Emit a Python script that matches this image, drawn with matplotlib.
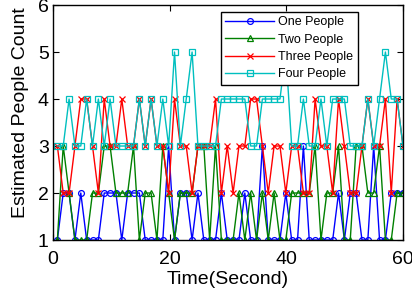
import numpy as np
import matplotlib
matplotlib.use("Agg")
import matplotlib.pyplot as plt

plt.rcParams['font.family'] = ['Liberation Sans', 'DejaVu Sans']

# sample times (seconds)
time = np.linspace(0.75, 60, 60)

one_people = [1, 2, 2, 1, 2, 1, 1, 1, 2, 2,
              2, 1, 2, 2, 2, 1, 1, 1, 1, 3,
              1, 2, 2, 1, 2, 1, 1, 1, 2, 1,
              1, 1, 2, 1, 1, 3, 1, 1, 1, 2,
              1, 1, 3, 1, 1, 1, 1, 1, 2, 1,
              2, 2, 1, 1, 3, 1, 1, 2, 2, 2]

two_people = [1, 3, 2, 1, 1, 1, 2, 2, 3, 3,
              2, 2, 2, 3, 1, 2, 2, 1, 3, 2,
              1, 2, 2, 2, 3, 3, 1, 3, 1, 1,
              1, 2, 1, 2, 1, 2, 1, 2, 1, 1,
              2, 2, 2, 2, 3, 1, 2, 2, 3, 1,
              1, 3, 3, 2, 2, 3, 1, 1, 2, 2]

three_people = [3, 2, 2, 3, 4, 4, 3, 2, 4, 3,
                3, 4, 3, 3, 4, 3, 4, 3, 3, 2,
                4, 3, 3, 2, 3, 3, 3, 4, 2, 3,
                2, 3, 3, 4, 4, 3, 2, 3, 3, 2,
                3, 3, 2, 2, 4, 3, 3, 2, 4, 3,
                2, 2, 3, 4, 3, 3, 4, 2, 4, 3]

four_people = [3, 3, 4, 3, 3, 4, 3, 4, 3, 4,
               3, 3, 3, 3, 4, 3, 4, 3, 4, 3,
               5, 3, 4, 5, 3, 3, 3, 3, 4, 4,
               4, 4, 4, 3, 3, 4, 4, 4, 4, 5,
               3, 3, 4, 3, 3, 4, 3, 4, 4, 4,
               3, 3, 3, 4, 3, 4, 5, 4, 4, 3]

fig = plt.figure(figsize=(4.12, 2.95), dpi=100)
ax = fig.add_axes([0.1286, 0.1864, 0.8495, 0.7966])

ms = 4.2
ax.plot(time, one_people, '-o', color=(0, 0, 1), mfc='none', ms=ms, lw=1, mew=0.9, label='One People')
ax.plot(time, two_people, '-^', color=(0, 0.5, 0), mfc='none', ms=ms, lw=1, mew=0.9, label='Two People')
ax.plot(time, three_people, '-x', color=(1, 0, 0), ms=ms, lw=1, mew=0.9, label='Three People')
ax.plot(time, four_people, '-s', color=(0, 0.75, 0.75), mfc='none', ms=ms, lw=1, mew=0.9, label='Four People')

ax.set_xlim(0, 60)
ax.set_ylim(1, 6)
ax.set_xticks([0, 20, 40, 60])
ax.set_yticks([1, 2, 3, 4, 5, 6])
ax.tick_params(direction='in', top=True, right=True, labelsize=14, length=4, width=0.8)
ax.tick_params(axis='x', pad=8)
ax.tick_params(axis='y', pad=3)
for s in ax.spines.values():
    s.set_linewidth(1.0)

ax.set_xlabel('Time(Second)', fontsize=14)
ax.set_ylabel('Estimated People Count', fontsize=14)
ax.xaxis.set_label_coords(0.5, -0.166)
ax.yaxis.set_label_coords(-0.094, 0.543)
ax.xaxis.label.set_va('center')
ax.yaxis.label.set_va('center')

leg = ax.legend(loc='upper left', bbox_to_anchor=(0.48, 0.97), fontsize=9,
                frameon=True, fancybox=False, edgecolor='black', framealpha=1,
                handlelength=3.9, handletextpad=0.35, labelspacing=0.42,
                borderpad=0.35, borderaxespad=0)
leg.get_frame().set_linewidth(1.0)

plt.savefig('out.png', dpi=100)
